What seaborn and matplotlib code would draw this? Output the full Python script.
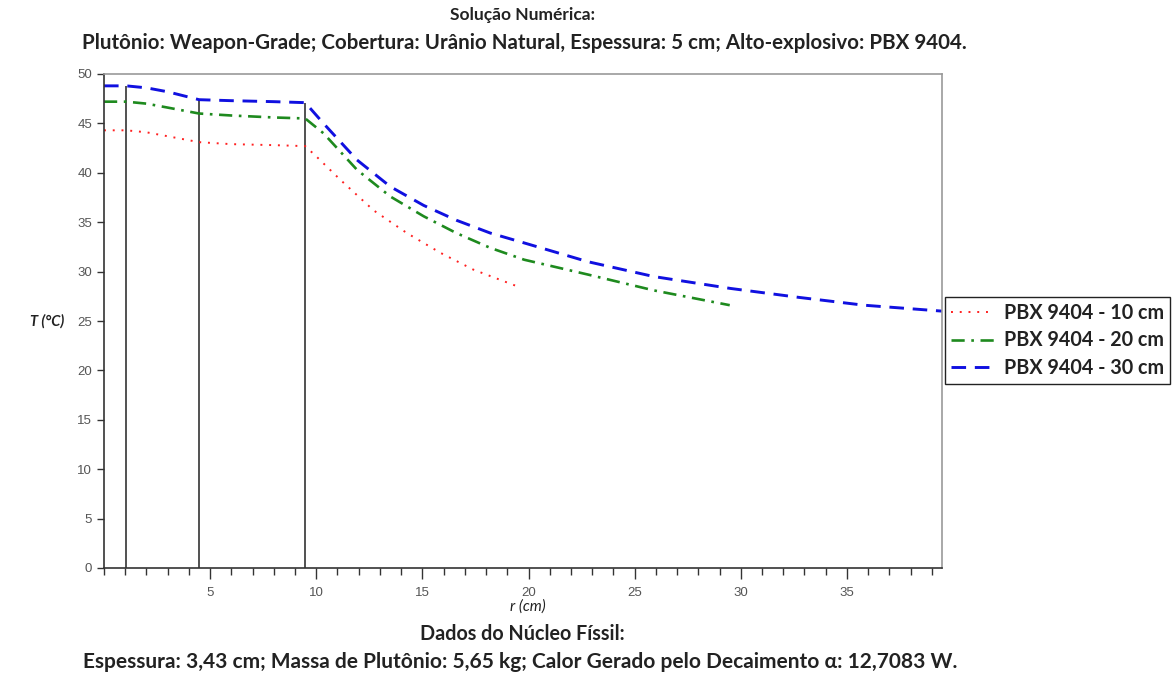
import matplotlib
matplotlib.use("Agg")
import matplotlib.pyplot as plt
import seaborn as sns
import pandas as pd
import numpy as np
from matplotlib.ticker import MultipleLocator, FixedLocator

# ---- data ----
r_10 = [0, 1.05, 2.0, 3.0, 4.48, 6.0, 8.0, 9.48, 10.03, 11.13, 12.7, 14.27, 15.85, 17.4, 19.48]
T_10 = [44.3, 44.3, 44.1, 43.7, 43.1, 42.9, 42.8, 42.7, 41.6, 39.3, 36.2, 33.9, 31.9, 30.2, 28.5]

r_20 = [0, 1.05, 2.0, 3.0, 4.48, 6.0, 8.0, 9.48, 10.34, 11.92, 13.49, 15.06, 16.6, 18.2, 19.8,
        22.8, 25.9, 29.48]
T_20 = [47.2, 47.2, 47.0, 46.6, 46.0, 45.8, 45.6, 45.5, 44.0, 40.3, 37.6, 35.6, 33.9, 32.4, 31.2,
        29.7, 28.1, 26.6]

r_30 = [0, 1.05, 2.0, 3.0, 4.48, 6.0, 8.0, 9.48, 10.34, 11.92, 13.49, 15.06, 16.6, 18.2, 19.8,
        22.8, 25.9, 29.5, 32.7, 35.8, 39.48]
T_30 = [48.8, 48.8, 48.6, 48.2, 47.4, 47.3, 47.2, 47.1, 45.0, 41.3, 38.6, 36.7, 35.2, 33.9, 32.9,
        31.0, 29.5, 28.3, 27.4, 26.6, 26.0]

series_labels = ["PBX 9404 - 10 cm", "PBX 9404 - 20 cm", "PBX 9404 - 30 cm"]
interfaces_r = [1.05, 4.48, 9.48]
interfaces_T = [48.8, 47.4, 47.1]

title_lines = ["Solução Numérica:",
               "Plutônio: Weapon-Grade; Cobertura: Urânio Natural, Espessura: 5 cm; Alto-explosivo: PBX 9404."]
bottom_lines = ["Dados do Núcleo Físsil:",
                "Espessura: 3,43 cm; Massa de Plutônio: 5,65 kg; Calor Gerado pelo Decaimento α: 12,7083 W."]
x_ticks = [5, 10, 15, 20, 25, 30, 35]
y_ticks = [0, 5, 10, 15, 20, 25, 30, 35, 40, 45, 50]

# ---- style ----
sns.set_style("white")
plt.rcParams['font.family'] = ['Lato', 'DejaVu Sans']

fig = plt.figure(figsize=(11.74, 6.82), dpi=100)
ax = fig.add_axes([104/1174, 1 - 568/682, (942-104)/1174, (568-74)/682])

df = pd.concat([
    pd.DataFrame({"r": r_10, "T": T_10, "s": series_labels[0]}),
    pd.DataFrame({"r": r_20, "T": T_20, "s": series_labels[1]}),
    pd.DataFrame({"r": r_30, "T": T_30, "s": series_labels[2]}),
])
colors = ["#ff2020", "#1e8a1e", "#1010e0"]
styles = [(0, (1, 3.5)), (0, (5, 2.5, 1, 2.5)), (0, (5, 3))]
widths = [1.4, 1.9, 2.1]
for lab, c, ls, lw in zip(series_labels, colors, styles, widths):
    sub = df[df["s"] == lab]
    sns.lineplot(data=sub, x="r", y="T", ax=ax, color=c, linestyle=ls, linewidth=lw,
                 label=lab, legend=False, sort=False)

ax.vlines(interfaces_r, 0, interfaces_T, colors="#333333", linewidth=1.2, zorder=1)

ax.set_xlim(0, 39.48)
ax.set_ylim(0, 50)
ax.xaxis.set_major_locator(FixedLocator(x_ticks))
ax.xaxis.set_minor_locator(MultipleLocator(1))
ax.yaxis.set_major_locator(FixedLocator(y_ticks))
ax.tick_params(axis="both", which="both", bottom=True, left=True, top=False, right=False)
ax.tick_params(axis="both", which="major", direction="out", length=5, width=1,
               colors="#333333", labelcolor="#555555", labelsize=9.5)
ax.tick_params(axis="x", which="major", length=8, pad=6)
ax.tick_params(axis="x", which="minor", direction="out", length=5, width=1, colors="#333333")
for lbl in ax.get_xticklabels() + ax.get_yticklabels():
    lbl.set_family(['Liberation Sans Narrow', 'Liberation Sans', 'DejaVu Sans'])
ax.set_xlabel("")
ax.set_ylabel("")
for side in ["left", "bottom"]:
    ax.spines[side].set_color("#333333")
    ax.spines[side].set_linewidth(1.2)
for side in ["top", "right"]:
    ax.spines[side].set_color("#999999")
    ax.spines[side].set_linewidth(1.2)

# titles and texts
fig.text(522/1174, 1 - 15/682, title_lines[0], ha="center", va="center",
         fontsize=12.5, fontweight="bold", color="#222222")
fig.text(524/1174, 1 - 43/682, title_lines[1], ha="center", va="center",
         fontsize=14.8, fontweight="bold", color="#222222")
fig.text(528/1174, 1 - 607/682, "r (cm)", ha="center", va="center",
         fontsize=11, style="italic", color="#222222")
fig.text(522/1174, 1 - 634/682, bottom_lines[0], ha="center", va="center",
         fontsize=14.2, fontweight="bold", color="#222222")
fig.text(520/1174, 1 - 662/682, bottom_lines[1], ha="center", va="center",
         fontsize=15.0, fontweight="bold", color="#222222")
fig.text(47/1174, 1 - 321/682, "T (°C)", ha="center", va="center",
         fontsize=10.5, style="italic", fontweight="bold", color="#222222")

handles, labels = ax.get_legend_handles_labels()
leg = fig.legend(handles, labels, loc="upper left", bbox_to_anchor=(945/1174, 1 - 297/682),
                 frameon=True, fancybox=False, edgecolor="#222222", framealpha=1,
                 prop={"weight": "bold", "size": 14.2}, handlelength=2.2,
                 borderpad=0.3, labelspacing=0.38, handletextpad=0.5, borderaxespad=0)
leg.get_frame().set_linewidth(1.0)
for t in leg.get_texts():
    t.set_color("#222222")

fig.savefig("out.png", dpi=100)
